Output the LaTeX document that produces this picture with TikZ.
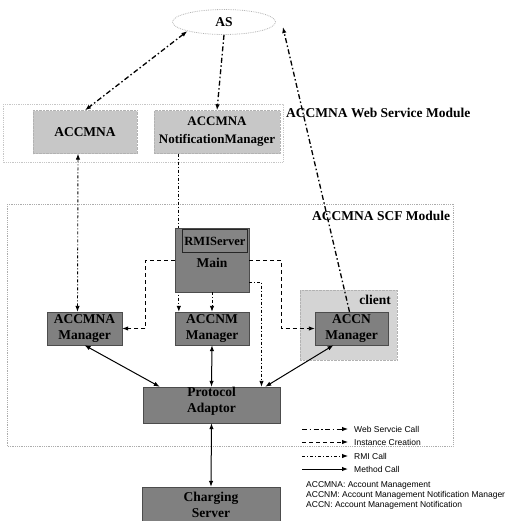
\documentclass[tikz,border=0pt]{standalone}
\usepackage{fontspec}
\setmainfont{Liberation Serif}
\newfontfamily\legendfont{Liberation Sans}
\usetikzlibrary{arrows.meta,shapes.geometric}

\begin{document}
\begin{tikzpicture}[x=1pt,y=-1pt,
  tipend/.style={-{Latex[length=6pt,width=4.5pt]}},
  twoway/.style={{Latex[length=6pt,width=4.5pt]}-{Latex[length=6pt,width=4.5pt]}},
  wscall/.style={line width=1.3pt, dash pattern=on 5pt off 2.5pt on 1.5pt off 2.5pt},
  instcall/.style={line width=0.9pt, dash pattern=on 4pt off 3pt},
  rmicall/.style={line width=0.9pt, dash pattern=on 3pt off 2pt on 1pt off 2pt},
  methcall/.style={line width=1pt},
  boxfont/.style={font=\bfseries\fontsize{13.5}{16}\selectfont},
  lightbox/.style={boxfont, draw=gray!60, densely dotted, fill=black!22,
    align=center, inner sep=0pt},
  darkbox/.style={boxfont, draw=black!70, fill=black!50,
    align=center, inner sep=0pt},
  module/.style={draw=gray!65, densely dotted, line width=0.8pt},
  modlabel/.style={boxfont, anchor=west, inner sep=0pt},
  legtext/.style={font=\legendfont\fontsize{8.5}{10}\selectfont, anchor=west, inner sep=0pt}
]
\useasboundingbox (0,0) rectangle (525,520);
\clip (0,0) rectangle (525,520);

% module frames
\draw[module, draw=gray!45] (3,104) rectangle (283,162);
\draw[module] (7,204) rectangle (453,446);
\node[modlabel] (wsmod) at (286,113) {ACCMNA Web Service Module};
\node[modlabel] (scfmod) at (312,216) {ACCMNA SCF Module};

% application server
\node[ellipse, draw=gray!60, densely dotted, line width=0.8pt,
      minimum width=103pt, minimum height=25pt, boxfont] (as) at (224,22) {AS};

% web service module components
\node[lightbox, minimum width=104pt, minimum height=43pt] (acc) at (85,132) {ACCMNA};
\node[lightbox, minimum width=126pt, minimum height=43pt,
      font=\bfseries\fontsize{13}{18}\selectfont] (nm) at (217,132) {ACCMNA\\NotificationManager};

% client frame
\node[draw=gray!60, densely dotted, fill=black!17, minimum width=97pt,
      minimum height=70pt, inner sep=0pt] (client) at (348.5,325) {};
\node[boxfont, anchor=east, inner sep=0pt] (clientlbl) at (391,300) {client};

% SCF module components
\node[darkbox, minimum width=75pt, minimum height=33pt] (am) at (84.5,328.5) {ACCMNA\\Manager};
\node[darkbox, minimum width=74pt, minimum height=33pt] (nmm) at (212,328.5) {ACCNM\\Manager};
\node[darkbox, minimum width=73pt, minimum height=33pt] (cm) at (351.5,328.5) {ACCN\\Manager};
\node[darkbox, minimum width=137pt, minimum height=36pt] (pa) at (211.5,405) {};
\node[boxfont, align=center, inner sep=0pt] (patext) at (211.5,401) {Protocol\\Adaptor};
\node[darkbox, minimum width=138pt, minimum height=36pt] (cs) at (211,505) {Charging\\Server};

% notification manager to ACCNM manager, passing behind the RMI server
\draw[rmicall, tipend] ([xshift=4pt]nmm.north west |- nm.south) -- ([xshift=4pt]nmm.north west);

\node[darkbox, minimum width=74pt, minimum height=64pt] (rmi) at (212,260) {};
\node[draw=black!85, line width=0.9pt, fill=black!48, minimum width=65pt,
      minimum height=23pt, inner sep=0pt,
      font=\bfseries\fontsize{12.5}{15}\selectfont] (rmiin) at (215,241) {RMIServer};
\node[boxfont, inner sep=0pt] (rmimain) at (212,263) {Main};

% web service calls
\draw[wscall, twoway] (as.194) -- (acc.north);
\draw[wscall, tipend] (as.south) -- (nm.north);
\draw[wscall, tipend] ([xshift=-2pt]cm.north) -- ([shift={(7,5)}]as.east);

% rmi calls
\draw[rmicall, twoway] ([xshift=-7pt]acc.south) -- ([xshift=-7pt]am.north);
\draw[rmicall, tipend] ([yshift=-22pt]rmi.east) -| ([xshift=50pt]pa.north);
\draw[rmicall, tipend] (rmi.south) -- (nmm.north);

% instance creation
\draw[instcall, tipend] (rmi.west) -- ++(-29,0) |- (am.east);
\draw[instcall, tipend] (rmi.east) -- ++(32,0) |- (cm.west);

% method calls
\draw[methcall, twoway] (am.south) -- ([xshift=17pt]pa.north west);
\draw[methcall, twoway] (nmm.south) -- (pa.north);
\draw[methcall, twoway] ([xshift=-18pt]cm.south) -- ([xshift=-15pt]pa.north east);
\draw[methcall, twoway] (pa.south) -- (cs.north);

% legend
\coordinate (w1) at (302,429); \coordinate (w2) at (348,429);
\coordinate (i1) at (302,442); \coordinate (i2) at (348,442);
\coordinate (r1) at (302,456); \coordinate (r2) at (348,456);
\coordinate (m1) at (302,469); \coordinate (m2) at (348,469);
\draw[wscall, line width=0.9pt, tipend] (w1) -- (w2);
\draw[instcall, tipend] (i1) -- (i2);
\draw[rmicall, tipend] (r1) -- (r2);
\draw[methcall, tipend] (m1) -- (m2);
\node[legtext] (lw) at (354,429) {Web Servcie Call};
\node[legtext] (li) at (354,442) {Instance Creation};
\node[legtext] (lr) at (354,456) {RMI Call};
\node[legtext] (lm) at (354,469) {Method Call};

% abbreviations
\node[legtext] (d1) at (306,485) {ACCMNA: Account Management};
\node[legtext] (d2) at (306,495) {ACCNM: Account Management Notification Manager};
\node[legtext] (d3) at (306,505) {ACCN: Account Management Notification};
\end{tikzpicture}
\end{document}
